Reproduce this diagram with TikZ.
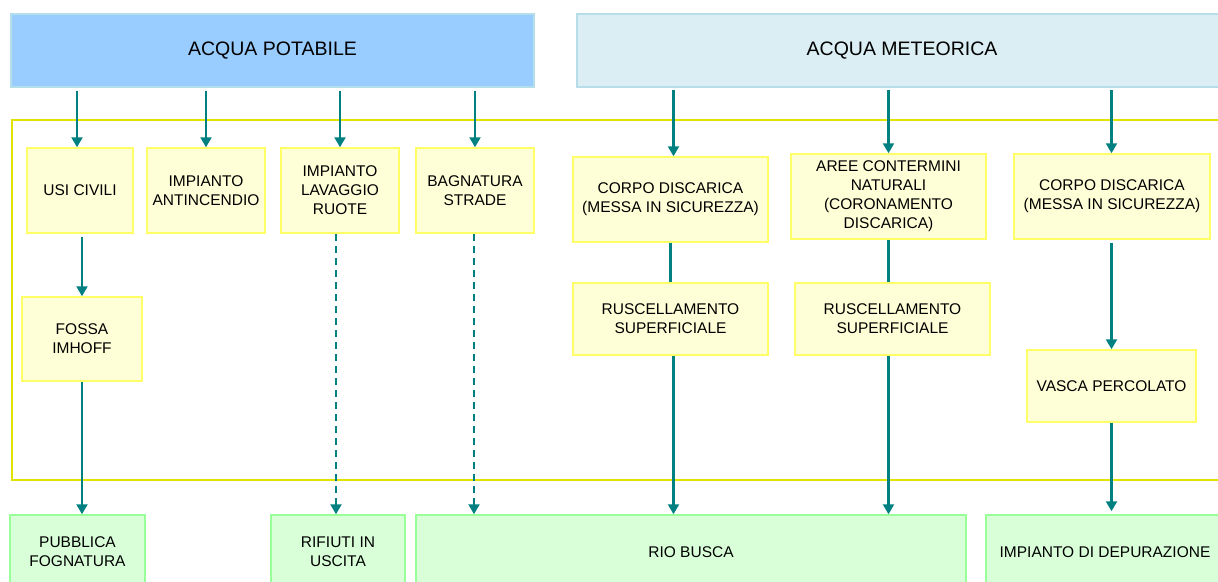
\documentclass[tikz,border=0pt]{standalone}
\usepackage{fontspec}
\setmainfont{Liberation Sans}
\usetikzlibrary{arrows.meta}
\definecolor{potfill}{HTML}{99CCFF}
\definecolor{potedge}{HTML}{B4DEEA}
\definecolor{metfill}{HTML}{DAEEF3}
\definecolor{metedge}{HTML}{B7DEE8}
\definecolor{stepfill}{HTML}{FFFFD7}
\definecolor{stepedge}{HTML}{FFFF66}
\definecolor{outfill}{HTML}{D9FFD9}
\definecolor{outedge}{HTML}{99FF99}
\definecolor{framecol}{HTML}{E2E200}
\definecolor{flowcol}{HTML}{008080}
\tikzset{x=1pt,y=-1pt,
    every node/.style={
        font=\fontsize{15.5}{19}\selectfont,
        align=center,
        inner sep=0pt},
    source/.style={
        line width=1.5pt,
        font=\fontsize{19.5}{22}\selectfont,
        minimum height=73pt},
    stepbox/.style={
        draw=stepedge,
        fill=stepfill,
        line width=1.5pt},
    outbox/.style={
        draw=outedge,
        fill=outfill,
        line width=1.5pt,
        minimum height=74pt},
    every edge/.style={
        draw=flowcol,
        -{Triangle[width=11pt,length=10pt]},
        line width=2.2pt},
    waste/.style={
        dash pattern=on 7pt off 5pt}}

\begin{document}
\begin{tikzpicture}
        \useasboundingbox (0,0) rectangle (1218,581);
        \clip (0,0) rectangle (1218,581);

        \draw[framecol,line width=2.5pt] (12,120) rectangle (1240,480);

        \node[source,draw=potedge,fill=potfill,minimum width=523pt] (pot) at (272.5,50.5) {ACQUA POTABILE};
        \node[source,draw=metedge,fill=metfill,minimum width=650pt] (met) at (902,50.5) {ACQUA METEORICA};

        \node[stepbox,minimum width=106pt,minimum height=85pt] (usi) at (80,190.5) {USI CIVILI};
        \node[stepbox,minimum width=118pt,minimum height=85pt] (antinc) at (206,190.5) {IMPIANTO\\ANTINCENDIO};
        \node[stepbox,minimum width=118pt,minimum height=85pt] (lavaggio) at (340,190.5) {IMPIANTO\\LAVAGGIO\\RUOTE};
        \node[stepbox,minimum width=118pt,minimum height=85pt] (bagnatura) at (475,190.5) {BAGNATURA\\STRADE};
        \node[stepbox,minimum width=120pt,minimum height=84pt] (fossa) at (82,339) {FOSSA\\IMHOFF};

        \node[stepbox,minimum width=195pt,minimum height=85pt] (corpoA) at (670.5,199.5) {CORPO DISCARICA\\(MESSA IN SICUREZZA)};
        \node[stepbox,minimum width=195pt,minimum height=85pt] (aree) at (888.5,196.5) {AREE CONTERMINI\\NATURALI\\(CORONAMENTO\\DISCARICA)};
        \node[stepbox,minimum width=196pt,minimum height=85pt] (corpoB) at (1112,196.5) {CORPO DISCARICA\\(MESSA IN SICUREZZA)};
        \node[stepbox,minimum width=195pt,minimum height=72pt] (ruscA) at (670.5,319) {RUSCELLAMENTO\\SUPERFICIALE};
        \node[stepbox,minimum width=195pt,minimum height=72pt] (ruscB) at (892.5,319) {RUSCELLAMENTO\\SUPERFICIALE};
        \node[stepbox,minimum width=169pt,minimum height=72pt] (vasca) at (1111.5,386) {VASCA PERCOLATO};

        \node[outbox,minimum width=135pt] (fognatura) at (77.5,552) {PUBBLICA\\FOGNATURA};
        \node[outbox,minimum width=134pt] (rifiuti) at (338,552) {RIFIUTI IN\\USCITA};
        \node[outbox,minimum width=550pt] (rio) at (691,552) {RIO BUSCA};
        \node[outbox,minimum width=238pt] (depur) at (1105,552) {IMPIANTO DI DEPURAZIONE};

        \draw ([xshift=-3pt]pot.south -| usi) edge[shorten <=3pt] ([xshift=-3pt]usi.north);
        \draw (pot.south -| antinc) edge[shorten <=3pt] (antinc);
        \draw (pot.south -| lavaggio) edge[shorten <=3pt] (lavaggio);
        \draw (pot.south -| bagnatura) edge[shorten <=3pt] (bagnatura);

        \draw ([xshift=3pt]met.south -| corpoA) edge[shorten <=2pt] ([xshift=3pt]corpoA.north);
        \draw (met.south -| aree) edge[shorten <=2pt] (aree);
        \draw (met.south -| vasca) edge[shorten <=2pt] (vasca |- corpoB.north);

        \draw (usi.south -| fossa) edge[shorten <=3pt] (fossa);
        \draw (fossa) edge (fossa |- fognatura.north);

        \draw ([xshift=-4pt]lavaggio.south) edge[waste] ([xshift=-4pt]lavaggio.south |- rifiuti.north);
        \draw ([xshift=-1pt]bagnatura.south) edge[waste] ([xshift=-1pt]bagnatura.south |- rio.north);

        \draw (corpoA) edge[-] (ruscA);
        \draw (aree) edge[-] (aree |- ruscB.north);
        \draw ([xshift=3pt]ruscA.south) edge ([xshift=3pt]ruscA.south |- rio.north);
        \draw (aree |- ruscB.south) edge (aree |- rio.north);

        \draw (corpoB.south -| vasca) edge[shorten <=3pt] (vasca);
        \draw (vasca) edge[shorten >=3pt] (vasca |- depur.north);
\end{tikzpicture}
\end{document}
